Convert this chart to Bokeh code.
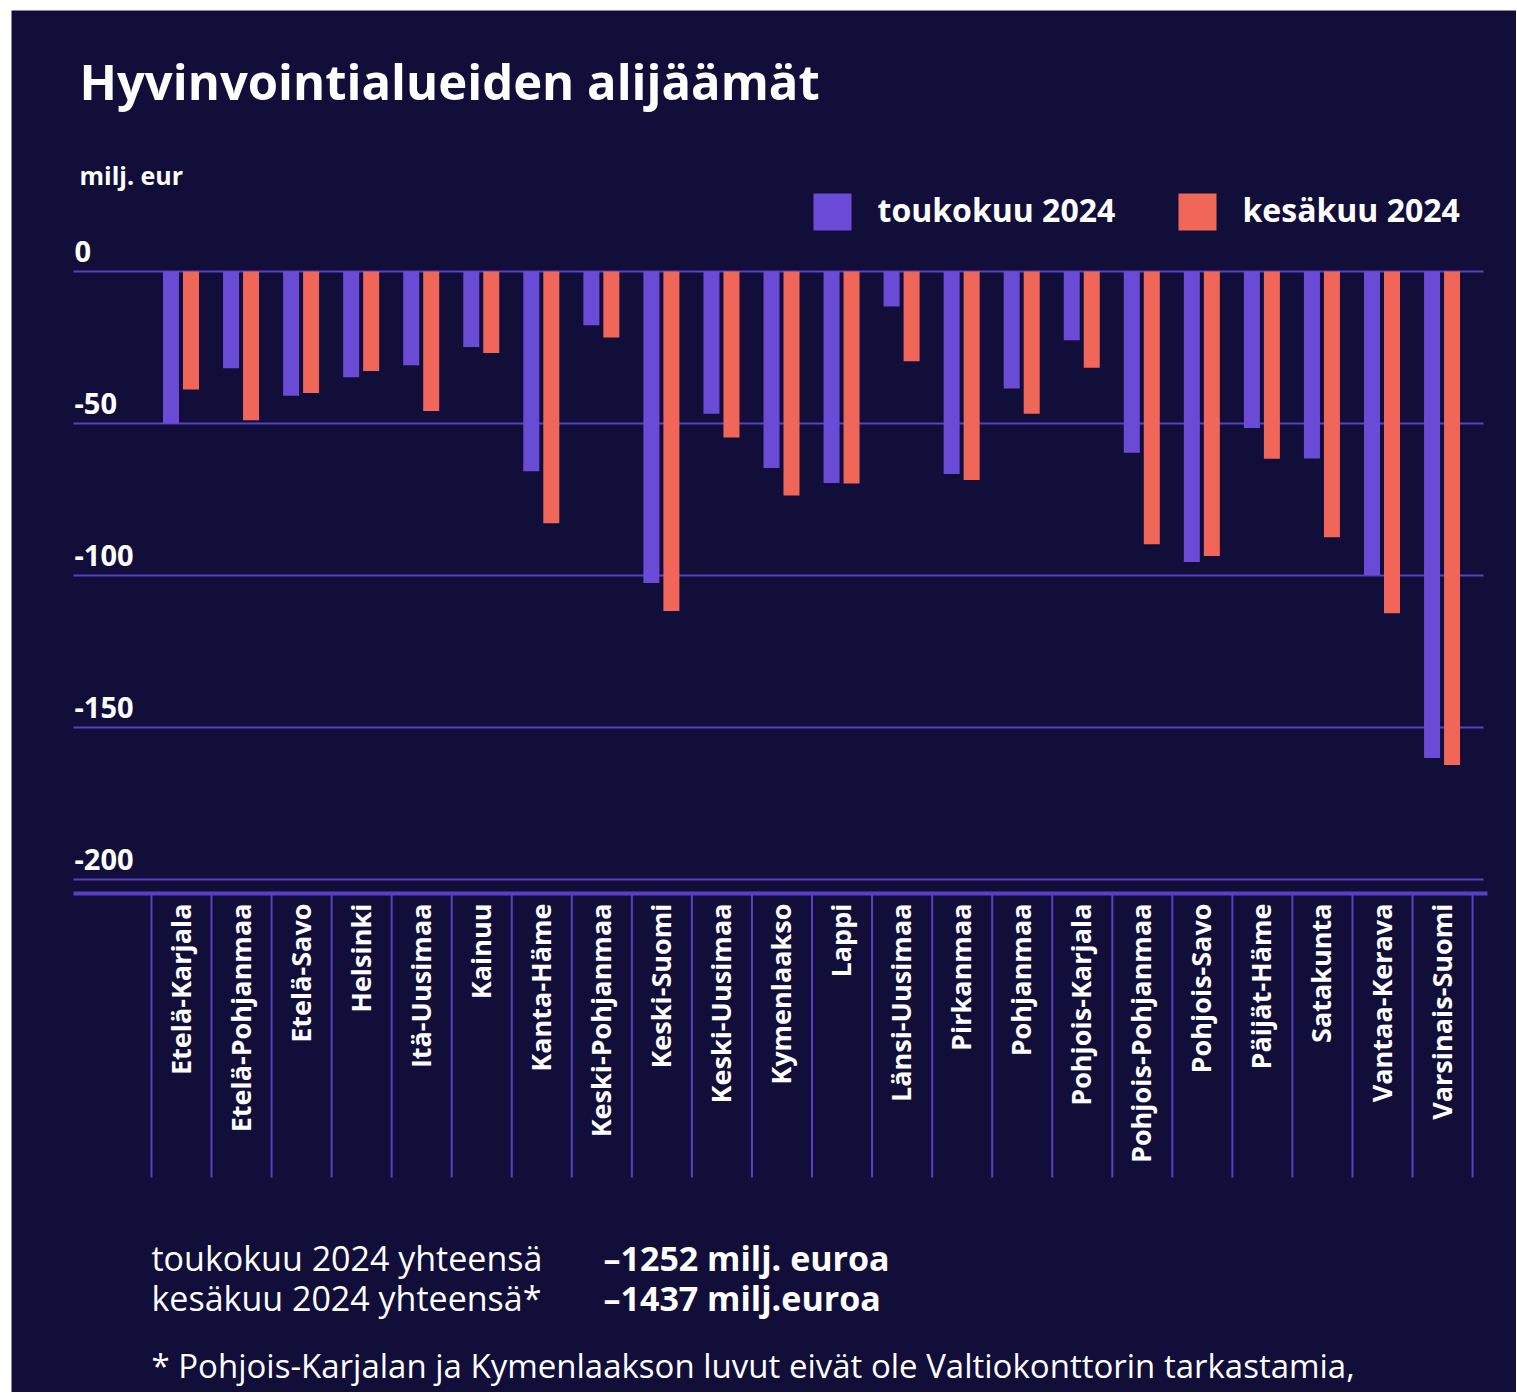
import math
from bokeh.plotting import figure
from bokeh.models import Range1d
from bokeh.core.properties import value
from bokeh.embed import file_html
from bokeh.resources import INLINE

# ---------------- data ----------------
regions = ["Etelä-Karjala", "Etelä-Pohjanmaa", "Etelä-Savo", "Helsinki", "Itä-Uusimaa",
           "Kainuu", "Kanta-Häme", "Keski-Pohjanmaa", "Keski-Suomi", "Keski-Uusimaa",
           "Kymenlaakso", "Lappi", "Länsi-Uusimaa", "Pirkanmaa", "Pohjanmaa",
           "Pohjois-Karjala", "Pohjois-Pohjanmaa", "Pohjois-Savo", "Päijät-Häme",
           "Satakunta", "Vantaa-Kerava", "Varsinais-Suomi"]
toukokuu = [-50.0, -31.8, -40.9, -34.8, -30.8, -24.8, -65.7, -17.7, -102.5, -46.8,
            -64.6, -69.6, -11.5, -66.6, -38.5, -22.6, -59.6, -95.6, -51.5, -61.5,
            -99.8, -160.0]
kesakuu = [-38.8, -48.9, -40.0, -32.7, -45.9, -26.8, -82.8, -21.7, -111.7, -54.6,
           -73.7, -69.7, -29.5, -68.6, -46.8, -31.7, -89.7, -93.6, -61.6, -87.4,
           -112.4, -162.3]
y_ticks = [0, -50, -100, -150, -200]
y_tick_labels = ["0", "-50", "-100", "-150", "-200"]
series_names = ["toukokuu 2024", "kesäkuu 2024"]
totals_labels = ["toukokuu 2024 yhteensä", "kesäkuu 2024 yhteensä*"]
totals_values = ["\u20131252 milj. euroa", "\u20131437 milj.euroa"]
title_text = "Hyvinvointialueiden alijäämät"
unit_text = "milj. eur"
footnote = "* Pohjois-Karjalan ja Kymenlaakson luvut eivät ole Valtiokonttorin tarkastamia,"

# ---------------- style ----------------
BG = "#120e3a"
PURPLE = "#6a4bd6"
CORAL = "#f06658"
GRID = "#5840c4"
WHITE = "#ffffff"
FONT = value("Open Sans")

PAGE_X0, PAGE_Y0 = 11, 10
W, H = 1505, 1382
CAT_PX = 60.05
CAT0_PX = 181.0
ZERO_PX = 271.0
UNIT_PX = 3.04


def X(px):
    return (px - CAT0_PX) / CAT_PX


def Y(py):
    return -(py - ZERO_PX) / UNIT_PX


p = figure(width=W, height=H, output_backend="svg", toolbar_location=None,
           x_axis_location=None, y_axis_location=None,
           x_range=Range1d(X(PAGE_X0), X(PAGE_X0 + W)),
           y_range=Range1d(Y(PAGE_Y0 + H), Y(PAGE_Y0)),
           min_border=0, min_border_left=0, min_border_right=0,
           min_border_top=0, min_border_bottom=0,
           background_fill_color=BG, border_fill_color=BG,
           outline_line_color=None, margin=(PAGE_Y0, 0, 0, PAGE_X0))
p.xgrid.visible = False
p.ygrid.visible = False

idx = list(range(len(regions)))

# gridlines
p.segment(x0=[X(73)] * len(y_ticks), x1=[X(1483)] * len(y_ticks), y0=y_ticks, y1=y_ticks,
          line_color=GRID, line_width=2)
# tick labels (sitting above their gridline)
p.text(x=[X(74)] * len(y_ticks), y=[t + 20 / UNIT_PX for t in y_ticks], text=y_tick_labels,
       text_font=FONT, text_font_size="29px", text_font_style="bold", text_color=WHITE,
       text_align="left", text_baseline="middle")

# bars
bw = 16 / CAT_PX
p.vbar(x=[i - 10.5 / CAT_PX for i in idx], top=0, bottom=toukokuu, width=bw,
       fill_color=PURPLE, line_color=None)
p.vbar(x=[i + 9.5 / CAT_PX for i in idx], top=0, bottom=kesakuu, width=bw,
       fill_color=CORAL, line_color=None)

# axis baseline
p.segment(x0=[X(73)], x1=[X(1487)], y0=[Y(893)], y1=[Y(893)], line_color=GRID, line_width=4)
# category separators
seps = [i - 0.5 for i in range(len(regions) + 1)]
p.segment(x0=seps, x1=seps, y0=[Y(893)] * len(seps), y1=[Y(1177)] * len(seps),
          line_color=GRID, line_width=2)
# category labels
p.text(x=[i - 1.5 / CAT_PX for i in idx], y=[Y(903)] * len(idx), text=regions, angle=math.pi / 2,
       text_font=FONT, text_font_size="27px", text_font_style="bold", text_color=WHITE,
       text_align="right", text_baseline="middle")

# title and unit
p.text(x=[X(79)], y=[Y(80)], text=[title_text], text_font=FONT, text_font_size="49px",
       text_font_style="bold", text_color=WHITE, text_align="left", text_baseline="middle")
p.text(x=[X(79)], y=[Y(174)], text=[unit_text], text_font=FONT, text_font_size="25px",
       text_font_style="bold", text_color=WHITE, text_align="left", text_baseline="middle")

# legend
p.quad(left=[X(813), X(1178)], right=[X(851), X(1216)], top=[Y(193), Y(193)],
       bottom=[Y(230), Y(230)], fill_color=[PURPLE, CORAL], line_color=None)
p.text(x=[X(877), X(1242)], y=[Y(209), Y(209)], text=series_names, text_font=FONT,
       text_font_size="32px", text_font_style="bold", text_color=WHITE,
       text_align="left", text_baseline="middle")

# totals
p.text(x=[X(151), X(151)], y=[Y(1257), Y(1297)], text=totals_labels, text_font=FONT,
       text_font_size="34px", text_color=WHITE, text_align="left", text_baseline="middle")
p.text(x=[X(603), X(603)], y=[Y(1257), Y(1297)], text=totals_values, text_font=FONT,
       text_font_size="34px", text_font_style="bold", text_color=WHITE,
       text_align="left", text_baseline="middle")
# footnote
p.text(x=[X(151)], y=[Y(1365)], text=[footnote], text_font=FONT, text_font_size="33px",
       text_color=WHITE, text_align="left", text_baseline="middle")

open("out.html", "w").write(file_html(p, INLINE))
